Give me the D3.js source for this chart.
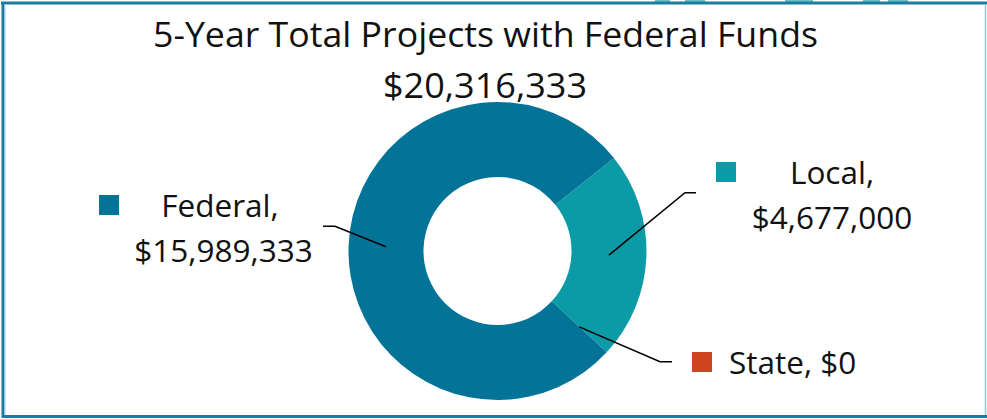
<!DOCTYPE html>
<html>
<head>
<meta charset="utf-8">
<script src="https://cdn.jsdelivr.net/npm/d3@7"></script>
<style>
  html, body { margin: 0; padding: 0; background: #fff; }
  svg { display: block; }
  text { font-family: "Open Sans", "Noto Sans", sans-serif; fill: #111; }
</style>
</head>
<body>
<div id="chart"></div>
<script>
// chart values
var titleLines = ["5-Year Total Projects with Federal Funds", "$20,316,333"];
var categories = ["Local", "State", "Federal"];
var amounts = [4677000, 0, 15989333];
var colors = ["#0a9ba6", "#cf4520", "#037498"];

var W = 987, H = 419;
var cx = 497.5, cy = 251, rOuter = 149, rInner = 74;

var svg = d3.select("#chart").append("svg")
    .attr("width", W)
    .attr("height", H);

// little bits of the slide behind peeking over the top edge
[[655, 15], [685, 20], [785, 28], [863, 17], [888, 20]].forEach(function (b) {
    svg.append("rect").attr("x", b[0]).attr("y", 0).attr("width", b[1]).attr("height", 3)
        .style("fill", "#6cc0cc");
});

// frame
svg.append("line").attr("x1", 1).attr("x2", W).attr("y1", 3).attr("y2", 3)
    .style("stroke", "#1b7c9e").style("stroke-width", 3);
svg.append("line").attr("x1", 3).attr("x2", 3).attr("y1", 2).attr("y2", 418)
    .style("stroke", "#1b7c9e").style("stroke-width", 3);
svg.append("line").attr("x1", 5).attr("x2", 5).attr("y1", 4).attr("y2", 415)
    .style("stroke", "#9fd0de").style("stroke-width", 1);
svg.append("line").attr("x1", 2).attr("x2", W).attr("y1", 416.5).attr("y2", 416.5)
    .style("stroke", "#1b7c9e").style("stroke-width", 3);
svg.append("line").attr("x1", 985.5).attr("x2", 985.5).attr("y1", 4).attr("y2", 415)
    .style("stroke", "#8ccadb").style("stroke-width", 1.5);

// title, squeezed to the width it has in the picture
var title = svg.append("g");
title.append("text")
    .attr("x", 485.5).attr("y", 47)
    .attr("text-anchor", "middle")
    .style("font-size", "35px")
    .attr("textLength", 665)
    .attr("lengthAdjust", "spacingAndGlyphs")
    .text(titleLines[0]);
title.append("text")
    .attr("x", 485).attr("y", 98)
    .attr("text-anchor", "middle")
    .style("font-size", "35px")
    .attr("textLength", 204)
    .attr("lengthAdjust", "spacingAndGlyphs")
    .text(titleLines[1]);

// donut
var deg = Math.PI / 180;
var start = 51.4 * deg;
var pie = d3.pie().sort(null).startAngle(start).endAngle(start + 2 * Math.PI);
var arcs = pie(amounts);
var arc = d3.arc().innerRadius(rInner).outerRadius(rOuter);
var labelArc = d3.arc().innerRadius((rInner + rOuter) / 2).outerRadius((rInner + rOuter) / 2);

var g = svg.append("g").attr("transform", "translate(" + cx + "," + cy + ")");
g.selectAll("path.slice")
    .data(arcs)
    .enter().append("path")
    .attr("class", "slice")
    .attr("d", arc)
    .style("fill", function (d, i) { return colors[i]; })
    .style("stroke", "none");

var fmt = d3.format(",");
var labelSize = "31.5px";

// label layout: elbow point, end of leader, key square, text lines
var labelLayout = {
    "Federal": { elbow: [335, 226.3], end: [323, 226.3], key: [99, 195], lines: [[220, 216.5], [223.5, 261.5]], split: true },
    "Local":   { elbow: [685, 192.7], end: [696, 192.7], key: [716, 162], lines: [[832, 184], [832, 229]], split: true },
    "State":   { elbow: [660, 361.7], end: [672, 361.7], key: [692, 352], lines: [[729, 374]], split: false }
};

arcs.forEach(function (d, i) {
    var name = categories[i];
    var L = labelLayout[name];
    var c = labelArc.centroid(d);
    var p0 = [cx + c[0], cy + c[1]];
    svg.append("polyline")
        .attr("points", [p0, L.elbow, L.end].map(function (p) { return p.join(","); }).join(" "))
        .style("fill", "none")
        .style("stroke", "#000")
        .style("stroke-width", 1.6);

    svg.append("rect")
        .attr("x", L.key[0]).attr("y", L.key[1])
        .attr("width", 20).attr("height", 20)
        .style("fill", colors[i]);

    var value = "$" + fmt(amounts[i]);
    if (L.split) {
        svg.append("text").attr("x", L.lines[0][0]).attr("y", L.lines[0][1])
            .attr("text-anchor", "middle").style("font-size", labelSize).text(name + ",");
        svg.append("text").attr("x", L.lines[1][0]).attr("y", L.lines[1][1])
            .attr("text-anchor", "middle").style("font-size", labelSize).text(value);
    } else {
        svg.append("text").attr("x", L.lines[0][0]).attr("y", L.lines[0][1])
            .attr("text-anchor", "start").style("font-size", labelSize).text(name + ", " + value);
    }
});
</script>
</body>
</html>
